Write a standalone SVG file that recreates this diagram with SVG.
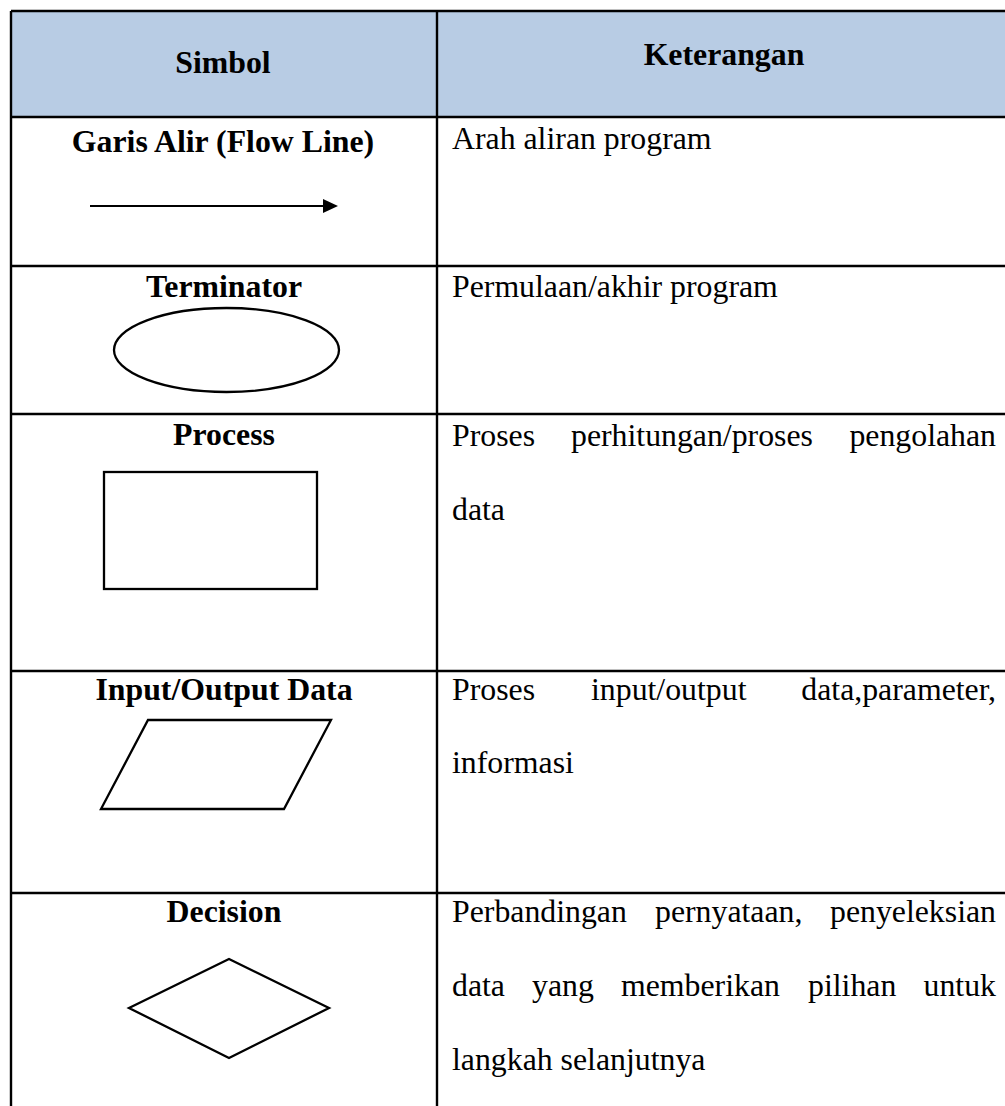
<svg xmlns="http://www.w3.org/2000/svg" width="1005" height="1106" viewBox="0 0 1005 1106">
  <style>
    .txt { font-family: "Liberation Serif", "Times New Roman", serif; font-size: 31.8px; fill: #000; }
    .b { font-weight: bold; }
    .c { text-anchor: middle; }
    .e { text-anchor: end; }
    .rule { stroke: #000; stroke-width: 2.4; fill: none; }
    .shape { stroke: #000; stroke-width: 2.3; fill: #fff; }
  </style>

  <rect x="0" y="0" width="1005" height="1106" fill="#fff"/>

  <!-- table grid: header band, outer left edge, column divider, row rules -->
  <g id="grid">
    <rect x="11" y="11" width="1000" height="106" fill="#B8CCE4"/>
    <line class="rule" x1="11" y1="11" x2="1005" y2="11"/>
    <line class="rule" x1="11" y1="11" x2="11" y2="1106"/>
    <line class="rule" x1="437" y1="11" x2="437" y2="1106"/>
    <line class="rule" x1="11" y1="117" x2="1005" y2="117"/>
    <line class="rule" x1="11" y1="266" x2="1005" y2="266"/>
    <line class="rule" x1="11" y1="414" x2="1005" y2="414"/>
    <line class="rule" x1="11" y1="671" x2="1005" y2="671"/>
    <line class="rule" x1="11" y1="893" x2="1005" y2="893"/>
  </g>

  <!-- header -->
  <g id="header">
    <text class="txt b c" x="223" y="73">Simbol</text>
    <text class="txt b c" x="724" y="65">Keterangan</text>
  </g>

  <!-- flow line -->
  <g id="flow-line">
    <text class="txt b c" x="223" y="152">Garis Alir (Flow Line)</text>
    <g id="connectors">
      <line x1="90" y1="206" x2="325" y2="206" stroke="#000" stroke-width="2.2"/>
      <polygon points="323,199 338,206 323,213" fill="#000"/>
    </g>
    <text class="txt" x="452" y="149">Arah aliran program</text>
  </g>

  <!-- terminator -->
  <g id="terminator">
    <text class="txt b c" x="224" y="297">Terminator</text>
    <ellipse class="shape" cx="226.5" cy="350" rx="112.5" ry="42" stroke-width="2.1"/>
    <text class="txt" x="452" y="297">Permulaan/akhir program</text>
  </g>

  <!-- process -->
  <g id="process">
    <text class="txt b c" x="224" y="445">Process</text>
    <rect class="shape" x="104" y="472" width="213" height="117"/>
    <text class="txt" x="452" y="446">Proses</text>
    <text class="txt" x="571" y="446">perhitungan/proses</text>
    <text class="txt e" x="996" y="446">pengolahan</text>
    <text class="txt" x="452" y="520">data</text>
  </g>

  <!-- input / output -->
  <g id="input-output">
    <text class="txt b c" x="224" y="700">Input/Output Data</text>
    <polygon class="shape" points="148,720 331,720 284,809 101,809"/>
    <text class="txt" x="452" y="700">Proses</text>
    <text class="txt" x="591" y="700">input/output</text>
    <text class="txt e" x="996" y="700">data,parameter,</text>
    <text class="txt" x="452" y="773">informasi</text>
  </g>

  <!-- decision -->
  <g id="decision">
    <text class="txt b c" x="224" y="922">Decision</text>
    <polygon class="shape" points="229,959 329,1008 229,1058 129,1008"/>
    <text class="txt" x="452" y="922">Perbandingan</text>
    <text class="txt" x="655" y="922">pernyataan,</text>
    <text class="txt e" x="996" y="922">penyeleksian</text>
    <text class="txt" x="452" y="996">data</text>
    <text class="txt" x="532" y="996">yang</text>
    <text class="txt" x="621" y="996">memberikan</text>
    <text class="txt" x="808" y="996">pilihan</text>
    <text class="txt e" x="996" y="996">untuk</text>
    <text class="txt" x="452" y="1070">langkah selanjutnya</text>
  </g>
</svg>
